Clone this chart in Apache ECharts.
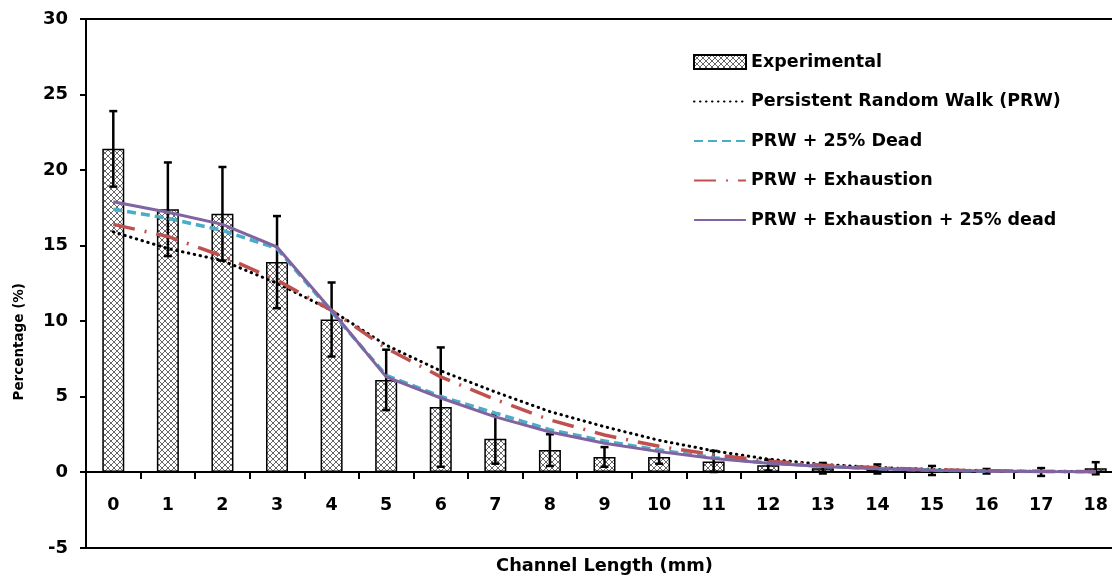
<!DOCTYPE html>
<html>
<head>
<meta charset="utf-8">
<script src="https://cdn.jsdelivr.net/npm/echarts@6/dist/echarts.min.js"></script>
<style>
html,body{margin:0;padding:0;background:#fff;}
#chart{width:1112px;height:577px;}
</style>
</head>
<body>
<div id="chart"></div>
<script>
const categories = ['0','1','2','3','4','5','6','7','8','9','10','11','12','13','14','15','16','17','18'];
const experimental = [21.4, 17.4, 17.1, 13.9, 10.1, 6.1, 4.3, 2.2, 1.45, 1.0, 1.0, 0.7, 0.45, 0.25, 0.2, 0.1, 0.05, 0, 0.25];
const experimentalErr = [2.5, 3.1, 3.1, 3.05, 2.45, 2.0, 3.95, 1.65, 1.05, 0.65, 0.45, 0.7, 0.35, 0.35, 0.3, 0.3, 0.15, 0.26, 0.4];
const prw = [15.9, 14.8, 14.0, 12.5, 10.7, 8.4, 6.7, 5.3, 4.0, 3.0, 2.1, 1.4, 0.85, 0.5, 0.3, 0.17, 0.08, 0.04, 0.02];
const prwDead = [17.4, 16.8, 16.0, 14.8, 10.6, 6.4, 5.0, 3.9, 2.8, 2.05, 1.45, 0.95, 0.6, 0.38, 0.22, 0.12, 0.06, 0.03, 0.02];
const prwExhaustion = [16.4, 15.6, 14.3, 12.7, 10.7, 8.2, 6.3, 4.8, 3.45, 2.45, 1.7, 1.15, 0.72, 0.45, 0.28, 0.15, 0.08, 0.04, 0.02];
const prwExhDead = [17.9, 17.2, 16.4, 14.9, 10.7, 6.3, 4.9, 3.65, 2.65, 1.9, 1.35, 0.9, 0.58, 0.36, 0.21, 0.12, 0.06, 0.03, 0.02];
// y axis: positive part (0..30) and negative part (-5..0)
const yTicksUpper = {min: 0, max: 30, interval: 5};
const yTicksLower = {min: -5, max: 0, interval: 5};
const seriesNames = ['Experimental', 'Persistent Random Walk (PRW)', 'PRW + 25% Dead', 'PRW + Exhaustion', 'PRW + Exhaustion + 25% dead'];

const FONT = '"DejaVu Sans", sans-serif';

function makePattern() {
  const c = document.createElement('canvas');
  c.width = 6; c.height = 6;
  const g = c.getContext('2d');
  g.fillStyle = '#fff';
  g.fillRect(0, 0, 6, 6);
  g.strokeStyle = '#666';
  g.lineWidth = 1;
  g.beginPath();
  g.moveTo(0, 0); g.lineTo(6, 6);
  g.moveTo(6, 0); g.lineTo(0, 6);
  g.stroke();
  return c;
}

const chart = echarts.init(document.getElementById('chart'), null, {renderer: 'canvas'});

const errData = categories.map((c, i) => [i, experimental[i], experimentalErr[i]]);

const axisLineStyle = {color: '#000', width: 2};
const labelFont = {fontFamily: FONT, fontWeight: 'bold', color: '#000'};

const option = {
  animation: false,
  backgroundColor: '#fff',
  grid: [
    {left: 86, top: 19, width: 1037, height: 453, containLabel: false, outerBoundsMode: 'none'},
    {left: 86, top: 472, width: 1037, height: 76, containLabel: false, outerBoundsMode: 'none'}
  ],
  legend: {
    orient: 'vertical',
    left: 688, top: 47,
    itemWidth: 52, itemHeight: 14, itemGap: 19.5,
    data: seriesNames.map((n, i) => i === 0
      ? {name: n, icon: 'rect'}
      : {name: n, itemStyle: {opacity: 0}}),
    textStyle: Object.assign({fontSize: 17.5, lineHeight: 20}, labelFont)
  },
  xAxis: [
    {
      gridIndex: 0, type: 'category', data: categories, boundaryGap: true, position: 'bottom',
      axisLine: {onZero: false, lineStyle: axisLineStyle},
      axisTick: {show: true, inside: false, length: 7, lineStyle: axisLineStyle},
      axisLabel: Object.assign({margin: 24, fontSize: 17.5}, labelFont),
      splitLine: {show: false}
    },
    {
      gridIndex: 0, type: 'category', data: categories, boundaryGap: true, position: 'top',
      axisLine: {onZero: false, lineStyle: axisLineStyle},
      axisTick: {show: false}, axisLabel: {show: false}, splitLine: {show: false}
    },
    {
      gridIndex: 1, type: 'category', data: categories, boundaryGap: true, position: 'bottom',
      axisLine: {onZero: false, lineStyle: axisLineStyle},
      axisTick: {show: false}, axisLabel: {show: false}, splitLine: {show: false},
      name: 'Channel Length (mm)', nameLocation: 'middle', nameGap: 9,
      nameTextStyle: Object.assign({fontSize: 17.8}, labelFont)
    }
  ],
  yAxis: [
    {
      gridIndex: 0, type: 'value',
      min: yTicksUpper.min, max: yTicksUpper.max, interval: yTicksUpper.interval,
      axisLine: {show: true, onZero: false, lineStyle: axisLineStyle},
      axisTick: {show: true, inside: false, length: 6, lineStyle: axisLineStyle},
      axisLabel: Object.assign({margin: 18, fontSize: 18}, labelFont),
      splitLine: {show: false}
    },
    {
      gridIndex: 1, type: 'value',
      min: yTicksLower.min, max: yTicksLower.max, interval: yTicksLower.interval,
      axisLine: {show: true, onZero: false, lineStyle: axisLineStyle},
      axisTick: {show: true, inside: false, length: 6, lineStyle: axisLineStyle},
      axisLabel: Object.assign({margin: 18, fontSize: 18, showMaxLabel: false}, labelFont),
      splitLine: {show: false}
    }
  ],
  graphic: [{
    type: 'text',
    left: 12, top: 283,
    rotation: Math.PI / 2,
    style: {text: 'Percentage (%)', fontFamily: FONT, fontWeight: 'bold', fontSize: 13.5, fill: '#000'}
  }],
  series: [
    {
      name: seriesNames[0],
      type: 'bar', xAxisIndex: 0, yAxisIndex: 0,
      data: experimental,
      barWidth: 22,
      itemStyle: {color: {image: makePattern(), repeat: 'repeat'}, borderColor: '#000', borderWidth: 1.5},
      z: 2
    },
    {
      name: 'errors',
      type: 'custom', xAxisIndex: 0, yAxisIndex: 0,
      data: errData,
      z: 3,
      clip: false,
      renderItem: function (params, api) {
        const x = api.value(0), v = api.value(1), e = api.value(2);
        const top = api.coord([x, v + e]);
        const bot = api.coord([x, v - e]);
        const hw = 4;
        const st = {stroke: '#000', lineWidth: 2.5};
        return {type: 'group', children: [
          {type: 'line', shape: {x1: top[0], y1: top[1], x2: bot[0], y2: bot[1]}, style: st},
          {type: 'line', shape: {x1: top[0] - hw, y1: top[1], x2: top[0] + hw, y2: top[1]}, style: st},
          {type: 'line', shape: {x1: bot[0] - hw, y1: bot[1], x2: bot[0] + hw, y2: bot[1]}, style: st}
        ]};
      }
    },
    {
      name: seriesNames[1], type: 'line', data: prw, symbol: 'none', z: 4,
      lineStyle: {color: '#000', width: 3, type: [0.5, 5.5], cap: 'round'},
      itemStyle: {color: '#000'}
    },
    {
      name: seriesNames[2], type: 'line', data: prwDead, symbol: 'none', z: 5,
      lineStyle: {color: '#4BACC6', width: 3.5, type: [9, 5]},
      itemStyle: {color: '#4BACC6'}
    },
    {
      name: seriesNames[3], type: 'line', data: prwExhaustion, symbol: 'none', z: 6,
      lineStyle: {color: '#C0504D', width: 3.5, type: [22, 10, 2, 10]},
      itemStyle: {color: '#C0504D'}
    },
    {
      name: seriesNames[4], type: 'line', data: prwExhDead, symbol: 'none', z: 7,
      lineStyle: {color: '#8064A2', width: 3},
      itemStyle: {color: '#8064A2'}
    }
  ]
};
chart.setOption(option);
</script>
</body>
</html>
